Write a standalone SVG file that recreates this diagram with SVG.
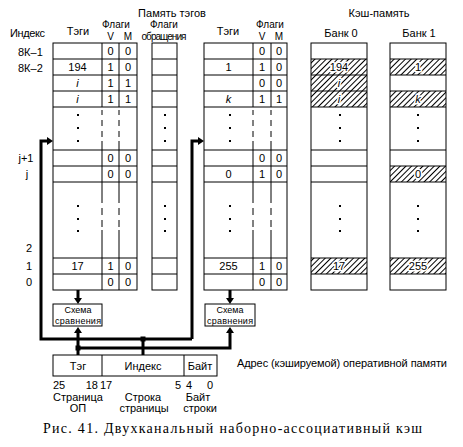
<svg xmlns="http://www.w3.org/2000/svg" width="463" height="447" viewBox="0 0 463 447">
<style>
text{font-family:"Liberation Sans",Arial,sans-serif;font-size:11px;fill:#000}
.c{text-anchor:middle}
.e{text-anchor:end}
.i{font-style:italic}
.s{font-size:9px}
.h{font-size:10px}
.box{fill:#fff;stroke:#000;stroke-width:1}
.ln{fill:none;stroke:#000;stroke-width:1}
.hat{fill:url(#hatch);stroke:none}
.ko{paint-order:stroke;stroke:#fff;stroke-width:3px;stroke-linejoin:round}
.thick{fill:none;stroke:#000;stroke-width:3}
.cap{font-family:"Liberation Serif","Times New Roman",serif;font-size:14px}
</style>
<defs>
<pattern id="hatch" patternUnits="userSpaceOnUse" width="4" height="4" patternTransform="rotate(45)">
<line x1="0.5" y1="0" x2="0.5" y2="4" stroke="#000" stroke-width="1"/>
</pattern>
<marker id="ah" viewBox="0 -4 6 8" refX="0" refY="0" markerWidth="6" markerHeight="8" markerUnits="userSpaceOnUse" orient="auto">
<path d="M0,-4 L6,0 L0,4 z" fill="#000"/>
</marker>
<g id="dot"><rect x="-1" y="-1" width="2" height="2" fill="#000"/></g>
</defs>
<rect width="463" height="447" fill="#fff"/>

<g id="headers">
<text class="c" x="172" y="17">Память тэгов</text>
<text class="c" x="379" y="17">Кэш-память</text>
<text x="10" y="37" textLength="35">Индекс</text>
<text class="c" x="78" y="35">Тэги</text>
<text class="c h" x="116" y="28">Флаги</text>
<text class="c h" x="110.5" y="40">V</text>
<text class="c h" x="128" y="40">M</text>
<text class="c h" x="164" y="28">Флаги</text>
<text class="c h" x="164" y="40" textLength="45">обращения</text>
<text class="c" x="228" y="35">Тэги</text>
<text class="c h" x="270" y="28">Флаги</text>
<text class="c h" x="262" y="40">V</text>
<text class="c h" x="279" y="40">M</text>
<text class="c" x="341" y="37">Банк 0</text>
<text class="c" x="419" y="37">Банк 1</text>
</g>

<g id="index-labels">
<text x="18" y="56">8К–1</text>
<text x="18" y="72">8К–2</text>
<text class="c" x="26" y="162">j+1</text>
<text class="c" x="27" y="178">j</text>
<text class="c" x="29" y="252">2</text>
<text class="c" x="29" y="270">1</text>
<text class="c" x="29" y="286">0</text>
</g>

<g id="tags0">
<rect class="box" x="53" y="43" width="84" height="247"/>
<path class="ln" d="M53 59H137M53 75H137M53 91H137M53 107H137M53 150H137M53 166H137M53 182H137M53 258H137M53 274H137"/>
<path class="ln" d="M102 43V107M102 110V115M102 120V126M102 131V137M102 141V203M102 208V215M102 220V227M102 230V290M119 43V107M119 110V115M119 120V126M119 131V137M119 141V203M119 208V215M119 220V227M119 230V290"/>
<text class="c" x="110.5" y="55">0</text><text class="c" x="128" y="55">0</text>
<text class="c" x="77.5" y="71">194</text><text class="c" x="110.5" y="71">1</text><text class="c" x="128" y="71">0</text>
<text class="c i" x="77.5" y="87">i</text><text class="c" x="110.5" y="87">1</text><text class="c" x="128" y="87">1</text>
<text class="c i" x="77.5" y="103">i</text><text class="c" x="110.5" y="103">1</text><text class="c" x="128" y="103">1</text>
<text class="c" x="110.5" y="162">0</text><text class="c" x="128" y="162">0</text>
<text class="c" x="110.5" y="178">0</text><text class="c" x="128" y="178">0</text>
<text class="c" x="77.5" y="270">17</text><text class="c" x="110.5" y="270">1</text><text class="c" x="128" y="270">0</text>
<text class="c" x="110.5" y="286">0</text><text class="c" x="128" y="286">0</text>
<use href="#dot" x="78" y="115"/><use href="#dot" x="78" y="128"/><use href="#dot" x="78" y="141"/>
<use href="#dot" x="78" y="206"/><use href="#dot" x="78" y="219"/><use href="#dot" x="78" y="231"/>
</g>

<g id="access0">
<rect class="box" x="152" y="43" width="25" height="247"/>
<path class="ln" d="M152 59H177M152 75H177M152 91H177M152 107H177M152 150H177M152 166H177M152 182H177M152 258H177M152 274H177"/>
<use href="#dot" x="165" y="115"/><use href="#dot" x="165" y="128"/><use href="#dot" x="165" y="141"/>
<use href="#dot" x="165" y="206"/><use href="#dot" x="165" y="219"/><use href="#dot" x="165" y="231"/>
</g>

<g id="tags1">
<rect class="box" x="204" y="43" width="83" height="247"/>
<path class="ln" d="M204 59H287M204 75H287M204 91H287M204 107H287M204 150H287M204 166H287M204 182H287M204 258H287M204 274H287"/>
<path class="ln" d="M253 43V107M253 110V115M253 120V126M253 131V137M253 141V203M253 208V215M253 220V227M253 230V290M271 43V107M271 110V115M271 120V126M271 131V137M271 141V203M271 208V215M271 220V227M271 230V290"/>
<text class="c" x="262" y="55">0</text><text class="c" x="279" y="55">0</text>
<text class="c" x="228.5" y="71">1</text><text class="c" x="262" y="71">1</text><text class="c" x="279" y="71">0</text>
<text class="c" x="262" y="87">0</text><text class="c" x="279" y="87">0</text>
<text class="c i" x="228.5" y="103">k</text><text class="c" x="262" y="103">1</text><text class="c" x="279" y="103">1</text>
<text class="c" x="262" y="162">0</text><text class="c" x="279" y="162">0</text>
<text class="c" x="228.5" y="178">0</text><text class="c" x="262" y="178">1</text><text class="c" x="279" y="178">0</text>
<text class="c" x="228.5" y="270">255</text><text class="c" x="262" y="270">1</text><text class="c" x="279" y="270">0</text>
<text class="c" x="262" y="286">0</text><text class="c" x="279" y="286">0</text>
<use href="#dot" x="230" y="115"/><use href="#dot" x="230" y="128"/><use href="#dot" x="230" y="141"/>
<use href="#dot" x="230" y="206"/><use href="#dot" x="230" y="219"/><use href="#dot" x="230" y="231"/>
</g>

<g id="bank0">
<rect class="box" x="311" y="43" width="56" height="247"/>
<rect class="hat" x="311" y="59" width="56" height="48"/>
<rect class="hat" x="311" y="258" width="56" height="16"/>
<path class="ln" d="M311 59H367M311 75H367M311 91H367M311 107H367M311 150H367M311 166H367M311 182H367M311 258H367M311 274H367"/>
<text class="c ko" x="339" y="71">194</text>
<text class="c i ko" x="339" y="87">i</text>
<text class="c i ko" x="339" y="103">i</text>
<text class="c ko" x="339" y="270">17</text>
<use href="#dot" x="340" y="115"/><use href="#dot" x="340" y="128"/><use href="#dot" x="340" y="141"/>
<use href="#dot" x="340" y="206"/><use href="#dot" x="340" y="219"/><use href="#dot" x="340" y="231"/>
</g>

<g id="bank1">
<rect class="box" x="390" y="43" width="56" height="247"/>
<rect class="hat" x="390" y="59" width="56" height="16"/>
<rect class="hat" x="390" y="91" width="56" height="16"/>
<rect class="hat" x="390" y="166" width="56" height="16"/>
<rect class="hat" x="390" y="258" width="56" height="16"/>
<path class="ln" d="M390 59H446M390 75H446M390 91H446M390 107H446M390 150H446M390 166H446M390 182H446M390 258H446M390 274H446"/>
<text class="c ko" x="418" y="71">1</text>
<text class="c i ko" x="418" y="103">k</text>
<text class="c ko" x="418" y="178">0</text>
<text class="c ko" x="418" y="270">255</text>
<use href="#dot" x="418" y="115"/><use href="#dot" x="418" y="128"/><use href="#dot" x="418" y="141"/>
<use href="#dot" x="418" y="206"/><use href="#dot" x="418" y="219"/><use href="#dot" x="418" y="231"/>
</g>

<g id="cmp0">
<rect class="box" x="53" y="304" width="49" height="22"/>
<text class="c s" x="78" y="313">Схема</text>
<text class="c s" x="78" y="323.5" textLength="46">сравнения</text>
</g>
<g id="cmp1">
<rect class="box" x="205" y="304" width="50" height="22"/>
<text class="c s" x="230" y="313">Схема</text>
<text class="c s" x="230" y="323.5" textLength="46">сравнения</text>
</g>

<g id="connectors">
<path class="thick" d="M192 339H41V141H47" marker-end="url(#ah)"/>
<path class="thick" d="M192 339V141H198" marker-end="url(#ah)"/>
<path class="thick" d="M143 339V355"/>
<path class="thick" d="M78 355V333" marker-end="url(#ah)"/>
<path class="thick" d="M78 348H230V333" marker-end="url(#ah)"/>
<path class="thick" d="M78 290V298" marker-end="url(#ah)"/>
<path class="thick" d="M230 290V298" marker-end="url(#ah)"/>
<rect x="140.5" y="336.5" width="5" height="5" fill="#000"/>
<rect x="75.5" y="345.5" width="5" height="5" fill="#000"/>
</g>

<g id="address">
<rect class="box" x="53" y="355" width="164" height="21"/>
<path class="ln" d="M102 355V376M184 355V376"/>
<text class="c" x="78" y="370">Тэг</text>
<text class="c" x="143" y="370">Индекс</text>
<text class="c" x="200" y="370">Байт</text>
<text x="53" y="389">25</text>
<text class="e" x="98" y="389">18</text>
<text x="100" y="389">17</text>
<text class="e" x="181" y="389">5</text>
<text x="186" y="389">4</text>
<text class="e" x="213" y="389">0</text>
<text class="c" x="78" y="401">Страница</text>
<text class="c" x="78" y="412">ОП</text>
<text class="c" x="143" y="401">Строка</text>
<text class="c" x="144" y="412">страницы</text>
<text class="c" x="198" y="401">Байт</text>
<text class="c" x="200" y="412">строки</text>
<text x="237" y="367" textLength="210">Адрес (кэшируемой) оперативной памяти</text>
</g>

<text class="cap" x="43" y="433" textLength="379" lengthAdjust="spacing">Рис. 41. Двухканальный наборно-ассоциативный кэш</text>
</svg>
